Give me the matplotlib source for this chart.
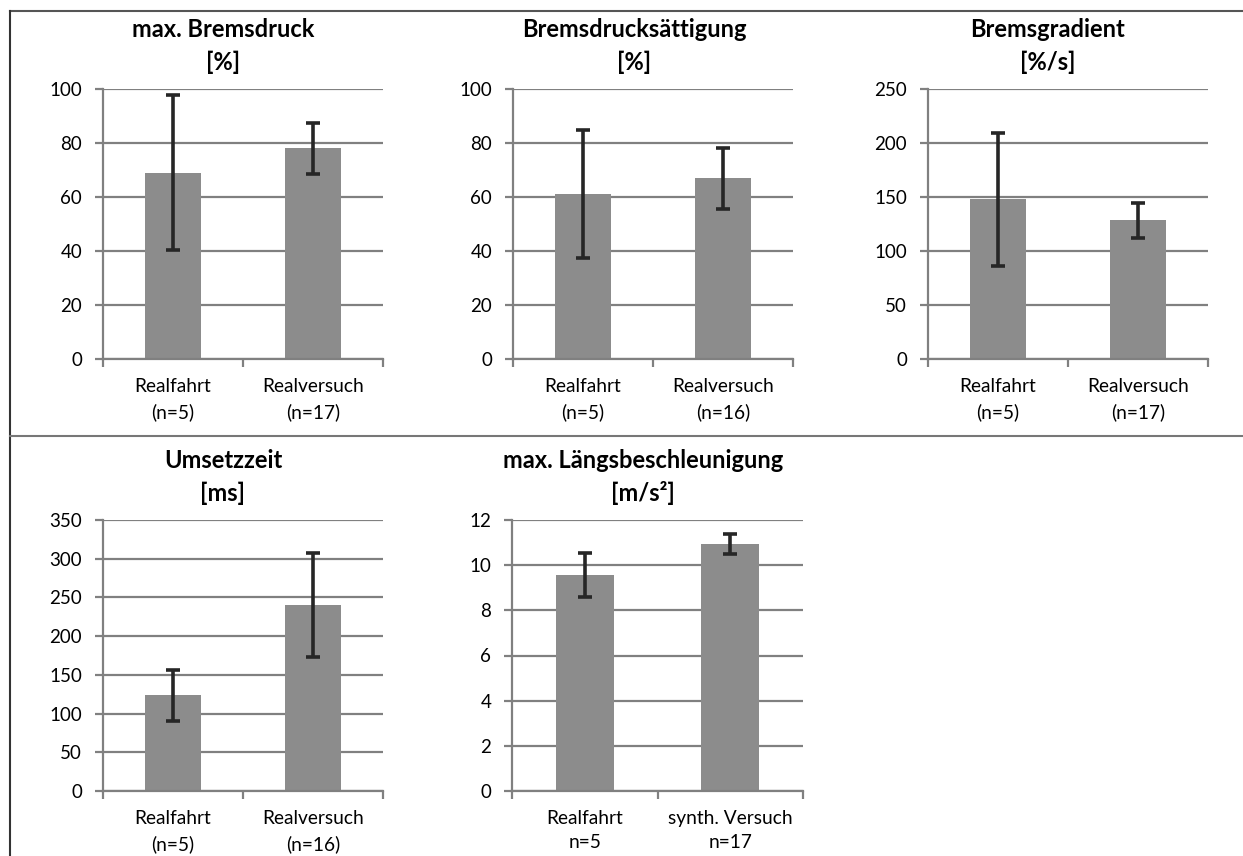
import numpy as np
import matplotlib
matplotlib.use('Agg')
import matplotlib.pyplot as plt
from matplotlib.lines import Line2D

plt.rcParams['font.family'] = ['Lato', 'DejaVu Sans']

# ---- data per panel ----
titles = ['max. Bremsdruck\n[%]', 'Bremsdrucksättigung\n[%]', 'Bremsgradient\n[%/s]',
          'Umsetzzeit\n[ms]', 'max. Längsbeschleunigung\n[m/s²]']
cats = [['Realfahrt\n(n=5)', 'Realversuch\n(n=17)'],
        ['Realfahrt\n(n=5)', 'Realversuch\n(n=16)'],
        ['Realfahrt\n(n=5)', 'Realversuch\n(n=17)'],
        ['Realfahrt\n(n=5)', 'Realversuch\n(n=16)'],
        ['Realfahrt\nn=5', 'synth. Versuch\nn=17']]
means = [[69, 78], [61, 67], [148, 128.4], [123.8, 240.3], [9.57, 10.93]]
errs = [[28.6, 9.3], [23.7, 11.3], [61.5, 16.4], [32.8, 66.6], [0.96, 0.45]]
ymax = [100, 100, 250, 350, 12]
ystep = [20, 20, 50, 50, 2]

W, H = 1243, 856
# plot areas in pixels: left, top, right, bottom
boxes = [(103, 89, 383, 359), (513, 89, 793, 359), (928, 89, 1208, 359),
         (103, 520, 383, 791), (512, 520, 803, 791)]
title_x = [223, 634, 1048, 223, 643]
title_y = [46, 46, 46, 477, 477]

GRID = '#808080'
BAR = '#8c8c8c'
ERR = '#262626'

fig = plt.figure(figsize=(W / 100, H / 100), dpi=100)

for i in range(5):
    l, t, r, b = boxes[i]
    ax = fig.add_axes([l / W, 1 - b / H, (r - l) / W, (b - t) / H])
    x = np.arange(2)
    ax.bar(x, means[i], 0.4, color=BAR, zorder=2)
    ax.errorbar(x, means[i], yerr=errs[i], fmt='none', ecolor=ERR, elinewidth=2.6,
                capsize=5, capthick=2.6, zorder=3)
    ax.set_xlim(-0.5, 1.5)
    ax.set_ylim(0, ymax[i])
    ax.set_yticks(np.arange(0, ymax[i] + ystep[i] / 2, ystep[i]))
    ax.yaxis.grid(True, color=GRID, lw=1.6, zorder=0)
    ax.set_axisbelow(True)
    ax.set_xticks([-0.5, 0.5, 1.5])
    ax.set_xticklabels([])
    ax.set_xticks(x, minor=True)
    ax.set_xticklabels(cats[i], minor=True, fontsize=13.8, linespacing=1.5)
    ax.tick_params(axis='x', which='major', direction='out', length=6, width=1.6, color=GRID)
    ax.tick_params(axis='x', which='minor', length=0, pad=14)
    ax.tick_params(axis='y', direction='out', length=6, width=1.6, color=GRID,
                   labelsize=13.5, pad=9)
    for s in ['top', 'right']:
        ax.spines[s].set_visible(False)
    for s in ['left', 'bottom']:
        ax.spines[s].set_color(GRID)
        ax.spines[s].set_linewidth(1.6)
    fig.text(title_x[i] / W, 1 - title_y[i] / H, titles[i], ha='center', va='center',
             fontsize=17, fontweight='bold', linespacing=1.45)

# frame lines around the panels
fig.add_artist(Line2D([10 / W, 1], [1 - 11 / H] * 2, color='#555555', lw=1.5))
fig.add_artist(Line2D([10 / W] * 2, [0, 1 - 11 / H], color='#333333', lw=1.5))
fig.add_artist(Line2D([10 / W, 1], [1 - 436 / H] * 2, color='#777777', lw=1.5))

fig.savefig('out.png', dpi=100)
